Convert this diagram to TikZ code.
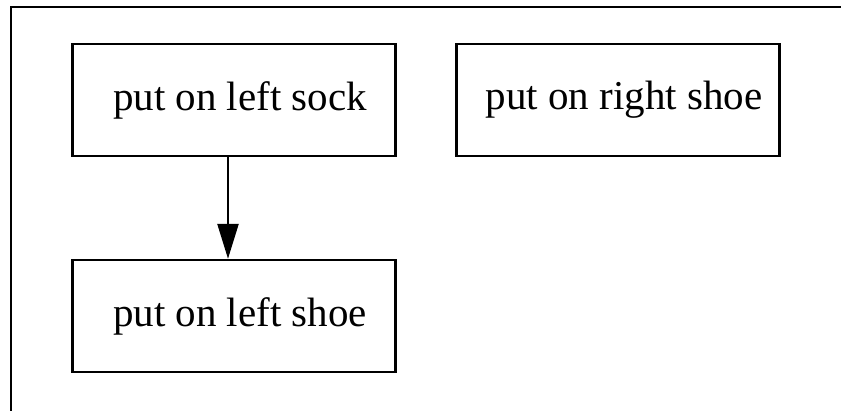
\documentclass[tikz,border=0pt]{standalone}
\usepackage{fontspec}
\setmainfont{Liberation Serif}
\usetikzlibrary{arrows.meta}

\begin{document}
\begin{tikzpicture}[
        x=0.5pt, y=-0.5pt,
        task/.style={rectangle, draw, line width=1.2pt, minimum width=161.5pt, minimum height=56pt, inner sep=0pt, font=\fontsize{20.5}{24}\selectfont, execute at begin node=\hspace*{6pt}},
        dep/.style={line width=1.2pt, -{Triangle[length=17.5pt, width=10.5pt]}}
    ]
        \useasboundingbox (0,0) rectangle (841,411);

        % Frame
        \draw[line width=1.2pt] (11,411) -- (11,7) -- (841,7);

        % Tasks
        \node[task] (left_sock) at (234, 100) {put on left sock};
        \node[task] (right_shoe) at (618, 100) {put on right shoe};
        \node[task] (left_shoe) at (234, 316) {put on left shoe};

        % Dependencies
        \draw[dep] ([xshift=-3pt]left_sock.south) -- ([xshift=-3pt]left_shoe.north);

    \end{tikzpicture}
\end{document}
